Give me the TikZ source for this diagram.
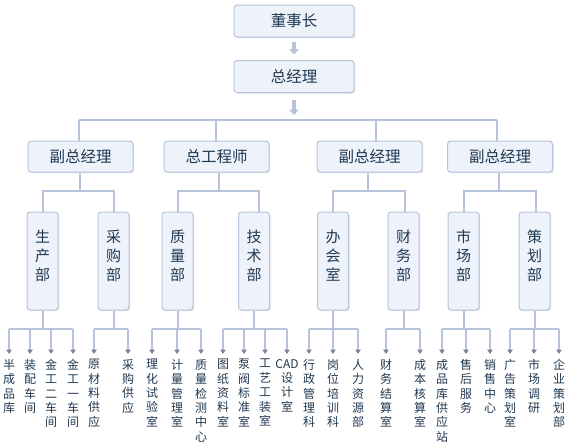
\documentclass[tikz,border=0pt]{standalone}
\usepackage{fontspec}
\newfontfamily\cjk{Noto Sans CJK SC}
\usetikzlibrary{arrows.meta,calc,shadows}
\definecolor{boxfill}{HTML}{EEF2FA}
\definecolor{boxline}{HTML}{B7C4D9}
\definecolor{conncol}{HTML}{B7C3D8}
\definecolor{txtcol}{HTML}{203850}
\definecolor{tipcol}{HTML}{7D8796}
\tikzset{
  box/.style={draw=boxline, line width=1pt, fill=boxfill, rounded corners=3pt,
    drop shadow={shadow xshift=1.2pt, shadow yshift=-1.2pt, fill=black!20, opacity=0.6},
    text=txtcol, font=\cjk\fontsize{15.5}{18}\selectfont, inner sep=0pt},
  topbox/.style={box, minimum width=120pt, minimum height=32pt},
  midbox/.style={box, minimum width=105pt, minimum height=31pt},
  vbox/.style={box, minimum width=31pt, minimum height=98pt},
  vtext/.style={align=center, text=txtcol, inner sep=0pt, font=\cjk\fontsize{15}{19}\selectfont},
  conn/.style={draw=conncol, line width=2pt},
  leafbus/.style={draw=conncol, line width=1.4pt},
  leafarrow/.style={draw=conncol, line width=1.4pt, -{Triangle[width=5.5pt,length=4.5pt,color=tipcol]}},
  blockarrow/.style={draw=conncol, line width=4pt, -{Triangle[width=9.5pt,length=5.5pt]}},
  leaf/.style={anchor=north, align=center, text=txtcol, inner sep=0pt, font=\cjk\fontsize{12}{14.4}\selectfont},
}
\begin{document}
\begin{tikzpicture}[x=1pt,y=-1pt]
\useasboundingbox (0,0) rectangle (570,445);
% top levels
\node[topbox] (ceo) at (294,21) {董事长};
\node[topbox] (gm) at (294,76.5) {总经理};
\draw[blockarrow] ($(ceo.south)+(0,4)$) -- ($(gm.north)+(0,-5.5)$);
\draw[blockarrow] ($(gm.south)+(0,7)$) -- ($(gm.south)+(0,22)$);
% level 2
\node[midbox] (v1) at (80.5,156.5) {副总经理};
\node[midbox] (v2) at (216.5,156.5) {总工程师};
\node[midbox] (v3) at (369.5,156.5) {副总经理};
\node[midbox] (v4) at (500,156.5) {副总经理};
\coordinate (b1) at (79,119.5);
\coordinate (b2) at (216,119.5);
\coordinate (b3) at (376,119.5);
\coordinate (b4) at (497,119.5);
\draw[conn] (b1) -- (b4);
\draw[conn] (b1) -- (b1 |- v1.north);
\draw[conn] (b2) -- (b2 |- v2.north);
\draw[conn] (b3) -- (b3 |- v3.north);
\draw[conn] (b4) -- (b4 |- v4.north);
% level 3
\foreach \n/\x/\t in {1/42.5/{生\\产\\部},2/113.5/{采\\购\\部},3/177.5/{质\\量\\部},4/254/{技\\术\\部},
                      5/333/{办\\会\\室},6/403.5/{财\\务\\部},7/463.5/{市\\场\\部},8/534.5/{策\\划\\部}}{
  \node[vbox] (p\n) at (\x,261) {};
  \node[vtext] (pt\n) at ($(p\n)+(0,-5)$) {\t};
}
\coordinate (m1) at (80,190.5);
\coordinate (m2) at (219,190.5);
\coordinate (m3) at (368,190.5);
\coordinate (m4) at (499,190.5);
\draw[conn] (v1.south -| m1) -- (m1);
\draw[conn] (v2.south -| m2) -- (m2);
\draw[conn] (v3.south -| m3) -- (m3);
\draw[conn] (v4.south -| m4) -- (m4);
\draw[conn] (p1.north) |- (m1) -| (p2.north);
\draw[conn] (p3.north) |- (m2) -| ([xshift=5pt]p4.north);
\draw[conn] (p5.north) |- (m3) -| ([xshift=1.5pt]p6.north);
\draw[conn] (p7.north) |- (m4) -| ([xshift=1.5pt]p8.north);
% leaves
\coordinate (busy) at (0,329);
\node[leaf] (l1) at (9,359) {半\\成\\品\\库};
\node[leaf] (l2) at (30,359) {装\\配\\车\\间};
\node[leaf] (l3) at (51,359) {金\\工\\二\\车\\间};
\node[leaf] (l4) at (73,359) {金\\工\\一\\车\\间};
\node[leaf] (l5) at (94,359) {原\\材\\料\\供\\应};
\node[leaf] (l6) at (128,359) {采\\购\\供\\应};
\node[leaf] (l7) at (152,359) {理\\化\\试\\验\\室};
\node[leaf] (l8) at (177,359) {计\\量\\管\\理\\室};
\node[leaf] (l9) at (201,359) {质\\量\\检\\测\\中\\心};
\node[leaf] (l10) at (223,359) {图\\纸\\资\\料\\室};
\node[leaf] (l11) at (244,359) {泵\\阀\\标\\准\\室};
\node[leaf] (l12) at (265,359) {工\\艺\\工\\装\\室};
\node[leaf] (l13) at (287,359) {CAD\\设\\计\\室};
\node[leaf] (l14) at (309,359) {行\\政\\管\\理\\科};
\node[leaf] (l15) at (333,359) {岗\\位\\培\\训\\科};
\node[leaf] (l16) at (358,359) {人\\力\\资\\源\\部};
\node[leaf] (l17) at (386,359) {财\\务\\结\\算\\室};
\node[leaf] (l18) at (420,359) {成\\本\\核\\算\\室};
\node[leaf] (l19) at (442,359) {成\\品\\库\\供\\应\\站};
\node[leaf] (l20) at (466,359) {售\\后\\服\\务};
\node[leaf] (l21) at (490,359) {销\\售\\中\\心};
\node[leaf] (l22) at (510,359) {广\\告\\策\\划\\室};
\node[leaf] (l23) at (534,359) {市\\场\\调\\研};
\node[leaf] (l24) at (559,359) {企\\业\\策\\划\\部};
% stubs from level 3 boxes
\foreach \n in {1,...,8}{
  \draw[conn] (p\n.south) -- (p\n.south |- busy);
}
% group buses
\draw[leafbus] (l1.north |- busy) -- (l4.north |- busy);
\draw[leafbus] (l5.north |- busy) -- (l6.north |- busy);
\draw[leafbus] (l7.north |- busy) -- (l9.north |- busy);
\draw[leafbus] (l10.north |- busy) -- (l13.north |- busy);
\draw[leafbus] (l14.north |- busy) -- (l16.north |- busy);
\draw[leafbus] (l17.north |- busy) -- (l18.north |- busy);
\draw[leafbus] (l19.north |- busy) -- (l21.north |- busy);
\draw[leafbus] (l22.north |- busy) -- (l24.north |- busy);
\foreach \n in {1,...,24}{
  \draw[leafarrow] (l\n.north |- busy) -- ([yshift=5pt]l\n.north);
}
\end{tikzpicture}
\end{document}
